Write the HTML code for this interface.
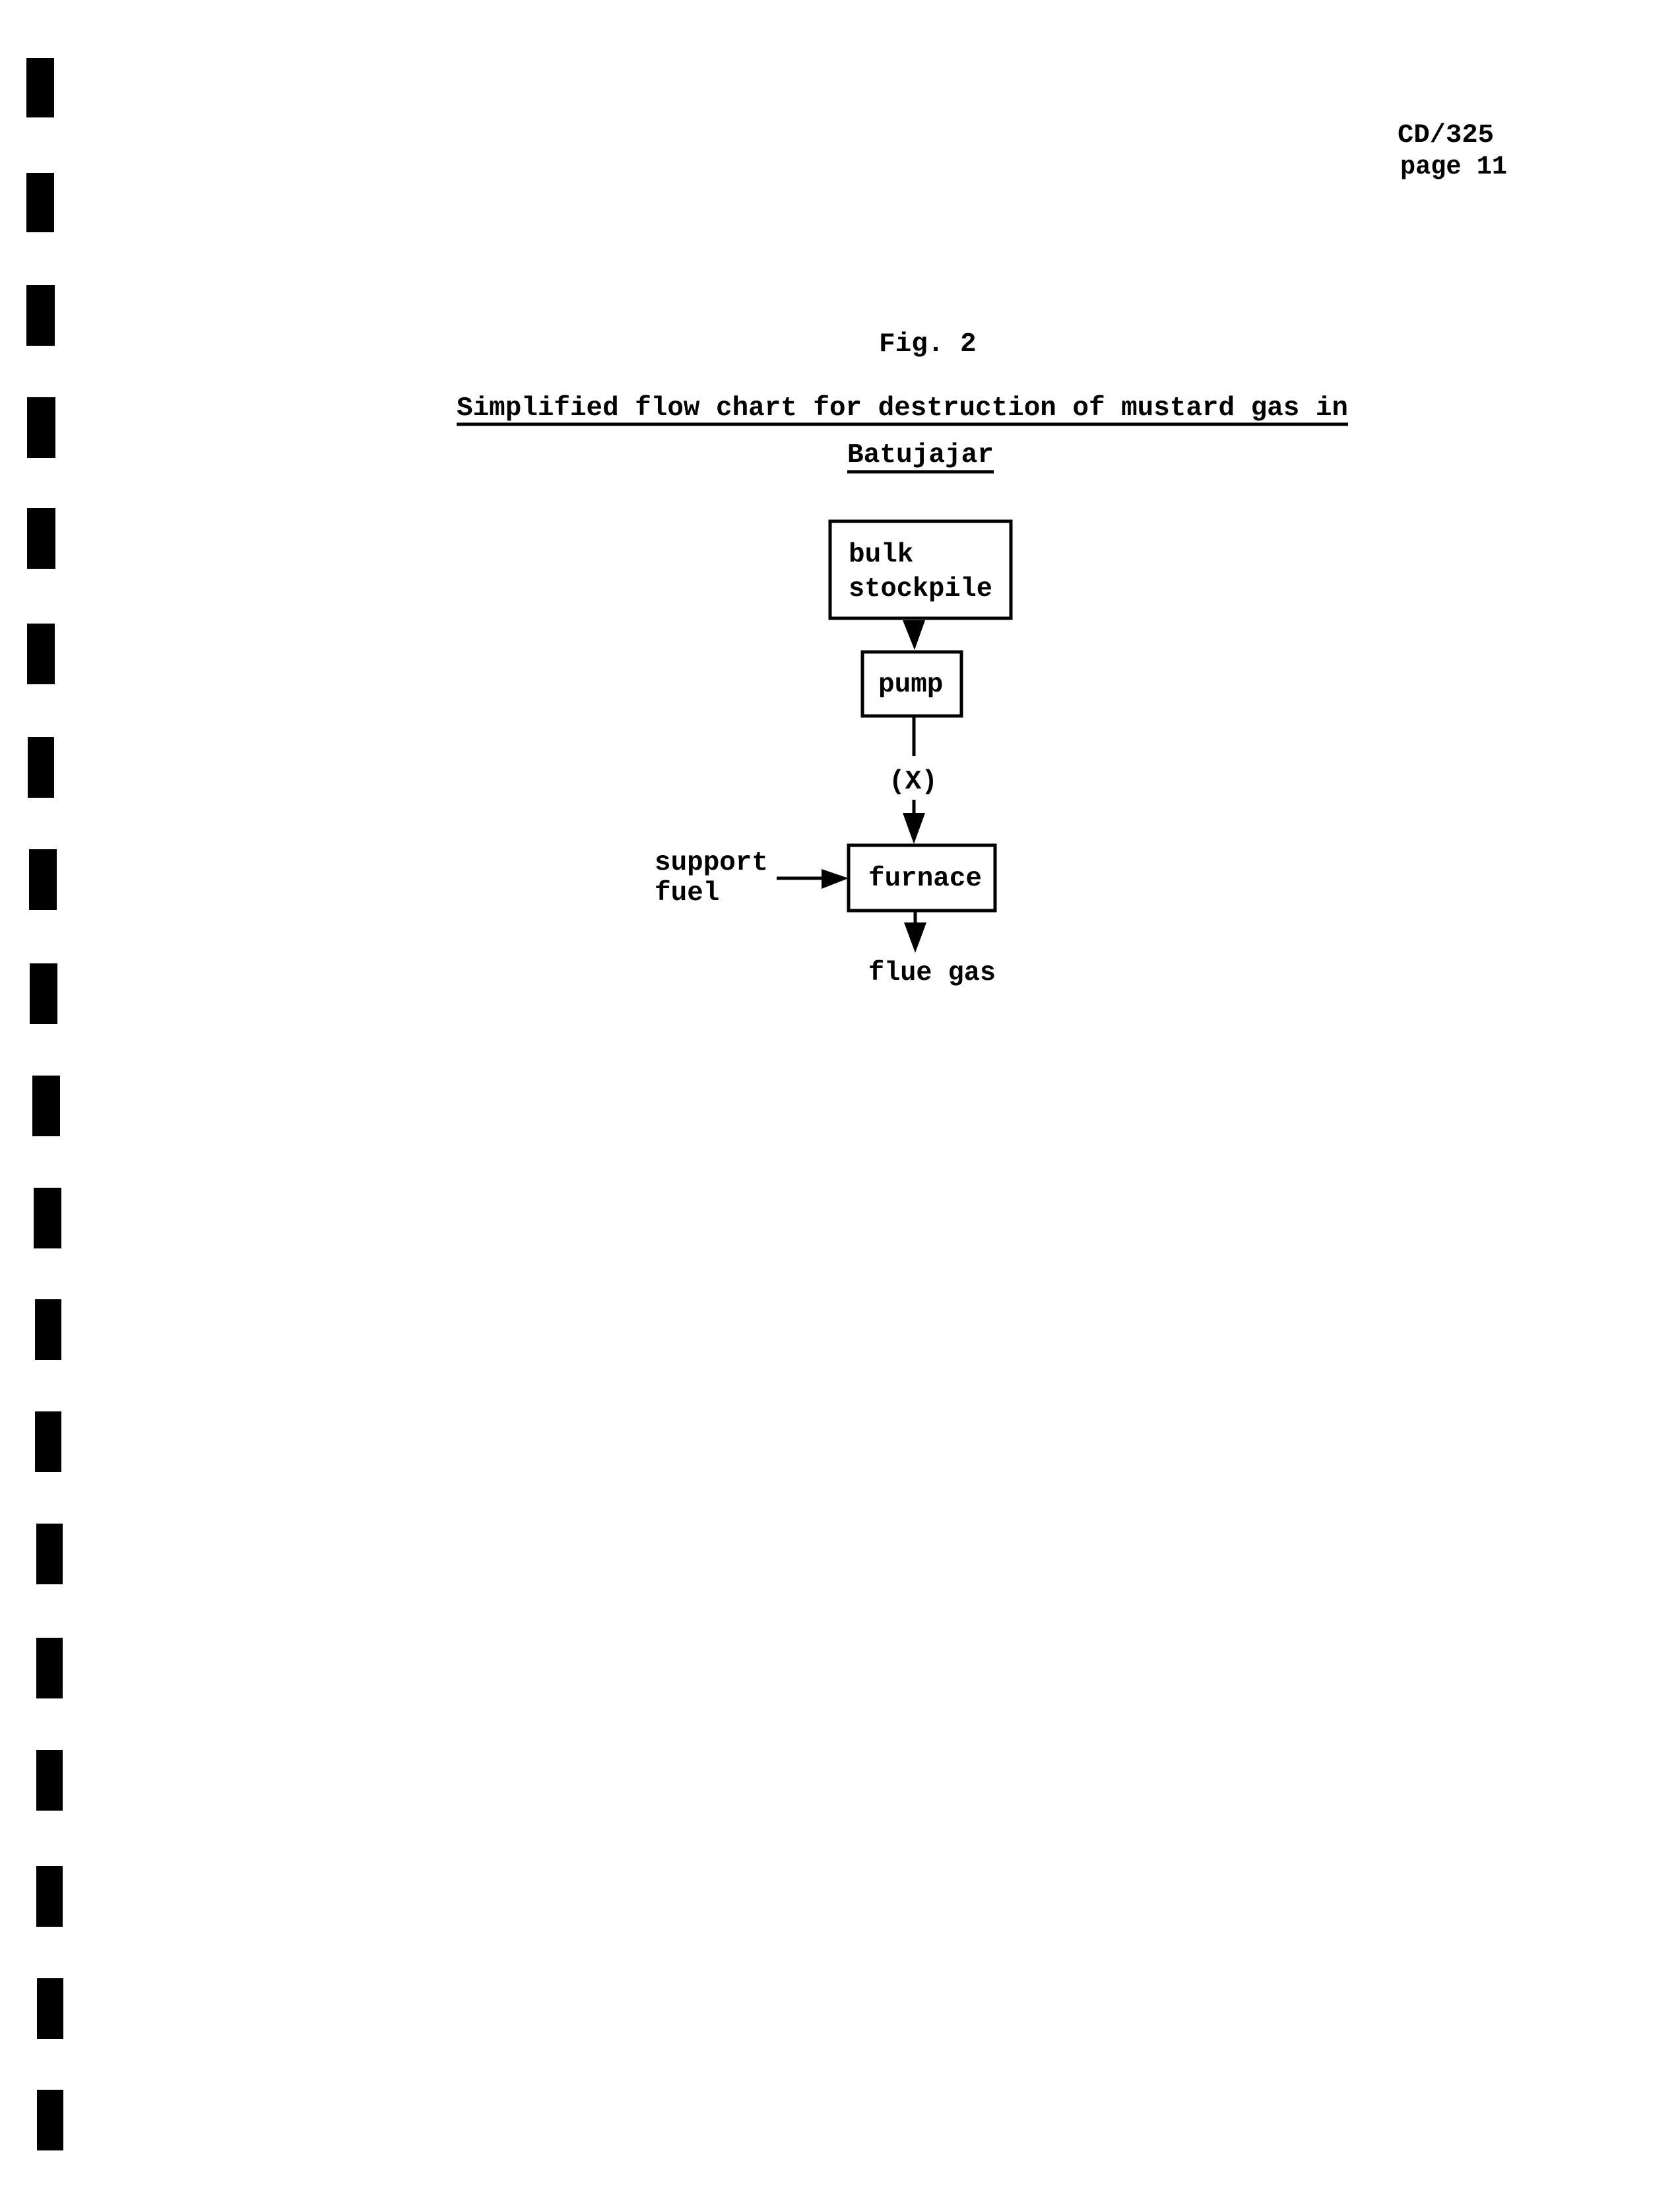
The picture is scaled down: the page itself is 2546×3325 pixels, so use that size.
<!DOCTYPE html>
<html><head><meta charset="utf-8"><style>
html,body{margin:0;padding:0;background:#fff;}
body{width:2546px;height:3325px;overflow:hidden;position:relative;}
svg{position:absolute;left:0;top:0;}
</style></head><body>
<svg width="2546" height="3325" viewBox="0 0 2546 3325" xmlns="http://www.w3.org/2000/svg">
<g fill="#000">
<rect x="40" y="88" width="42" height="90"/>
<rect x="40" y="262" width="42" height="90"/>
<rect x="40" y="432" width="43" height="92"/>
<rect x="41" y="602" width="43" height="92"/>
<rect x="41" y="770" width="43" height="92"/>
<rect x="41" y="945" width="42" height="92"/>
<rect x="42" y="1117" width="40" height="92"/>
<rect x="44" y="1287" width="42" height="92"/>
<rect x="45" y="1460" width="42" height="92"/>
<rect x="49" y="1630" width="42" height="92"/>
<rect x="51" y="1800" width="42" height="92"/>
<rect x="53" y="1969" width="40" height="92"/>
<rect x="53" y="2139" width="40" height="92"/>
<rect x="55" y="2309" width="40" height="92"/>
<rect x="55" y="2482" width="40" height="92"/>
<rect x="55" y="2652" width="40" height="92"/>
<rect x="55" y="2828" width="40" height="92"/>
<rect x="56" y="2998" width="40" height="92"/>
<rect x="56" y="3167" width="40" height="92"/>
</g>
<g font-family="'Liberation Mono', monospace" font-size="40" font-weight="bold" fill="#000">
<text x="2118" y="215" textLength="146" lengthAdjust="spacingAndGlyphs">CD/325</text>
<text x="2122" y="263" textLength="162" lengthAdjust="spacingAndGlyphs">page 11</text>
</g>
<g font-family="'Liberation Mono', monospace" font-size="41" font-weight="bold" fill="#000">
<text x="1332" y="532">Fig. 2</text>
<text x="692" y="629" textLength="1351" lengthAdjust="spacingAndGlyphs">Simplified flow chart for destruction of mustard gas in</text>
<text x="1284" y="700" textLength="222" lengthAdjust="spacingAndGlyphs">Batujajar</text>
<text x="1286" y="851">bulk</text>
<text x="1286" y="903" textLength="218" lengthAdjust="spacingAndGlyphs">stockpile</text>
<text x="1331" y="1048">pump</text>
<text x="1347" y="1195">(X)</text>
<text x="1316" y="1342" textLength="172" lengthAdjust="spacingAndGlyphs">furnace</text>
<text x="992" y="1318" textLength="172" lengthAdjust="spacingAndGlyphs">support</text>
<text x="992" y="1364">fuel</text>
<text x="1316" y="1485" textLength="193" lengthAdjust="spacingAndGlyphs">flue gas</text>
</g>
<g stroke="#000" stroke-width="5" fill="none">
<line x1="692" y1="643" x2="2043" y2="643"/>
<line x1="1284" y1="715" x2="1506" y2="715"/>
<rect x="1258" y="790" width="274" height="147"/>
<rect x="1307" y="988" width="150" height="97"/>
<rect x="1286" y="1281" width="222" height="99"/>
<line x1="1385" y1="1085" x2="1385" y2="1146"/>
<line x1="1385" y1="1212" x2="1385" y2="1240"/>
<line x1="1177" y1="1331" x2="1250" y2="1331"/>
<line x1="1387" y1="1380" x2="1387" y2="1400"/>
</g>
<g fill="#000">
<polygon points="1368,940 1402,940 1386,985"/>
<polygon points="1368,1232 1402,1232 1385,1279"/>
<polygon points="1245,1317 1245,1347 1286,1331"/>
<polygon points="1370,1398 1404,1398 1387,1444"/>
</g>
</svg>
</body></html>
